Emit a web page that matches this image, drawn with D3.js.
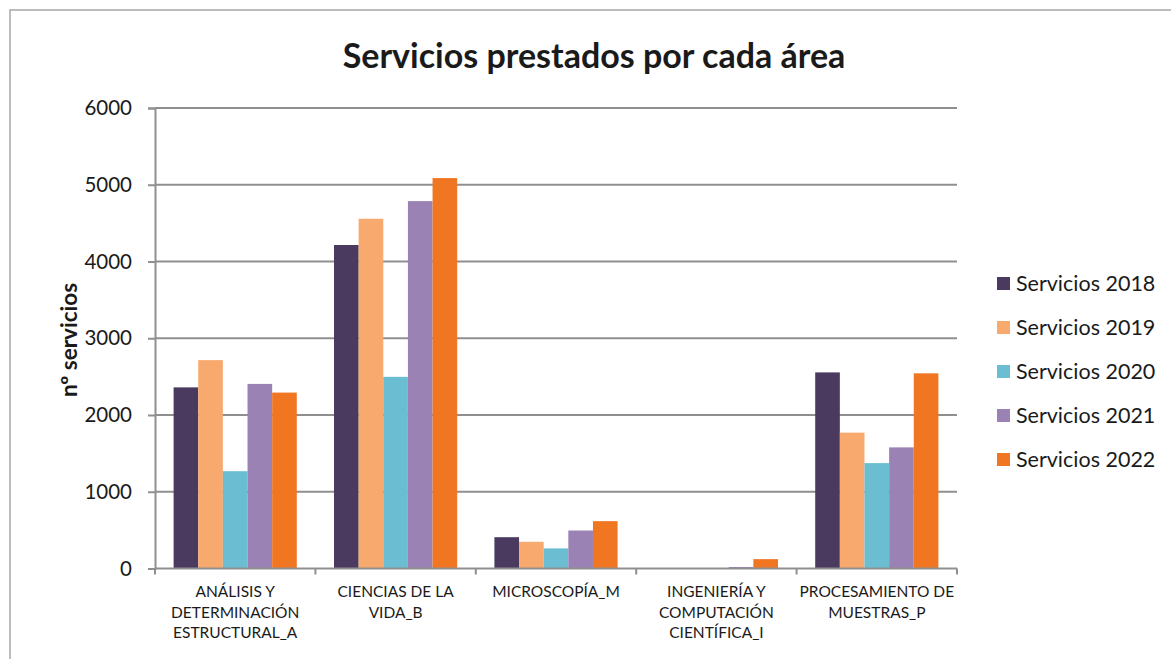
<!DOCTYPE html>
<meta charset="utf-8">
<style>
body { margin: 0; background: #fff; }
text { font-family: Lato, "Open Sans", sans-serif; fill: #1a1a1a; }
</style>
<body>
<svg width="1171" height="659"></svg>
</body>
<script src="https://d3js.org/d3.v7.min.js"></script>
<script>

// data
var categories = [
  ["ANÁLISIS Y", "DETERMINACIÓN", "ESTRUCTURAL_A"],
  ["CIENCIAS DE LA", "VIDA_B"],
  ["MICROSCOPÍA_M"],
  ["INGENIERÍA Y", "COMPUTACIÓN", "CIENTÍFICA_I"],
  ["PROCESAMIENTO DE", "MUESTRAS_P"]
];
var seriesNames = ["Servicios 2018", "Servicios 2019", "Servicios 2020", "Servicios 2021", "Servicios 2022"];
var s2018 = [2360, 4215, 408, 0, 2555];
var s2019 = [2715, 4557, 348, 0, 1770];
var s2020 = [1268, 2497, 262, 0, 1373];
var s2021 = [2405, 4787, 495, 20, 1578];
var s2022 = [2292, 5087, 617, 122, 2543];
var yTicks = [0, 1000, 2000, 3000, 4000, 5000, 6000];
var colors = ["#4b3a60", "#f8a96e", "#6bbed2", "#9b82b4", "#f07622"];

var series = [s2018, s2019, s2020, s2021, s2022];

var svg = d3.select("svg");

// outer frame
svg.append("rect")
  .attr("x", 10).attr("y", 10).attr("width", 1175).attr("height", 670)
  .attr("fill", "none").attr("stroke", "#a6a6a6").attr("stroke-width", 1.5);

var plotL = 155, plotR = 957, plotT = 108, plotB = 568.5;

var x0 = d3.scaleBand()
  .domain(d3.range(categories.length))
  .range([plotL, plotR])
  .paddingInner(0.232)
  .paddingOuter(0.116);

var x1 = d3.scaleBand()
  .domain(d3.range(series.length))
  .range([0, x0.bandwidth()]);

var y = d3.scaleLinear().domain([0, 6000]).range([plotB, plotT]);

// gridlines
svg.append("g")
  .selectAll("line")
  .data(yTicks.slice(1))
  .enter().append("line")
  .attr("x1", plotL).attr("x2", plotR)
  .attr("y1", function(d) { return y(d); })
  .attr("y2", function(d) { return y(d); })
  .attr("stroke", "#8f8f8f").attr("stroke-width", 2);

// bars
var groups = svg.append("g")
  .selectAll("g")
  .data(categories)
  .enter().append("g")
  .attr("transform", function(d, i) { return "translate(" + x0(i) + ",0)"; });

groups.selectAll("rect")
  .data(function(d, i) { return series.map(function(s, k) { return {k: k, v: s[i]}; }); })
  .enter().append("rect")
  .attr("x", function(d) { return x1(d.k); })
  .attr("width", x1.bandwidth())
  .attr("y", function(d) { return y(d.v); })
  .attr("height", function(d) { return plotB - y(d.v); })
  .attr("fill", function(d) { return colors[d.k]; });

// y axis
var yAxis = svg.append("g")
  .attr("transform", "translate(" + plotL + ",0)")
  .call(d3.axisLeft(y).tickValues(yTicks).tickFormat(d3.format("d")).tickSize(7).tickPadding(16));
yAxis.select(".domain").attr("stroke", "#8f8f8f").attr("stroke-width", 2);
yAxis.selectAll(".tick line").attr("stroke", "#8f8f8f").attr("stroke-width", 2);
yAxis.selectAll(".tick text")
  .style("font-family", "Lato, sans-serif").style("font-size", "20.5px").attr("fill", "#1a1a1a");

// x axis: baseline + boundary ticks
var step = x0.step();
var bounds = d3.range(categories.length + 1).map(function(i) { return plotL + i * step; });
svg.append("line")
  .attr("x1", plotL).attr("x2", plotR).attr("y1", plotB).attr("y2", plotB)
  .attr("stroke", "#8f8f8f").attr("stroke-width", 2);
svg.append("g").selectAll("line")
  .data(bounds)
  .enter().append("line")
  .attr("x1", function(d) { return d; }).attr("x2", function(d) { return d; })
  .attr("y1", plotB).attr("y2", plotB + 6)
  .attr("stroke", "#8f8f8f").attr("stroke-width", 2);

// category labels
var labels = svg.append("g").selectAll("text")
  .data(categories)
  .enter().append("text")
  .attr("text-anchor", "middle")
  .style("font-size", "15.5px")
  .attr("transform", function(d, i) { return "translate(" + (x0(i) + x0.bandwidth() / 2) + ",597)"; });
labels.selectAll("tspan")
  .data(function(d) { return d; })
  .enter().append("tspan")
  .attr("x", 0)
  .attr("y", function(d, j) { return j * 20.5; })
  .text(function(d) { return d; });

// title
svg.append("text")
  .attr("x", 594).attr("y", 68)
  .attr("text-anchor", "middle")
  .style("font-size", "34px").style("font-weight", "bold")
  .text("Servicios prestados por cada área");

// y title
svg.append("text")
  .attr("transform", "translate(77,340) rotate(-90)")
  .attr("text-anchor", "middle")
  .style("font-size", "22.5px").style("font-weight", "bold")
  .text("nº servicios");

// legend
var legend = svg.append("g").selectAll("g")
  .data(seriesNames)
  .enter().append("g")
  .attr("transform", function(d, i) { return "translate(997," + (283 + i * 44) + ")"; });
legend.append("rect")
  .attr("x", 0).attr("y", -6).attr("width", 13).attr("height", 13)
  .attr("fill", function(d, i) { return colors[i]; });
legend.append("text")
  .attr("x", 19).attr("y", 7.5)
  .style("font-size", "21.5px")
  .text(function(d) { return d; });

</script>
